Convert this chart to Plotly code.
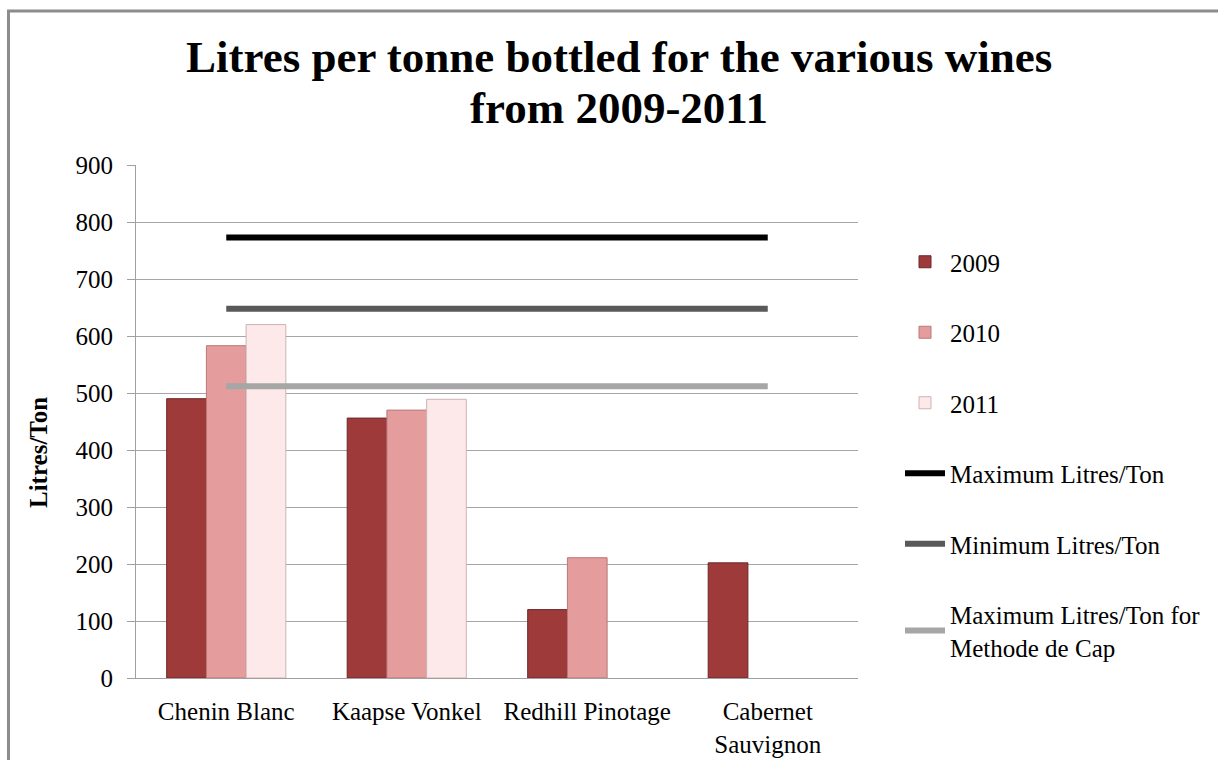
import plotly.graph_objects as go

categories = ["Chenin Blanc", "Kaapse Vonkel", "Redhill Pinotage", "Cabernet<br>Sauvignon"]
years = ["2009", "2010", "2011"]
values_2009 = [490, 456, 120, 202]
values_2010 = [583, 470, 211, None]
values_2011 = [620, 489, None, None]
max_litres = [773, 773, 773, 773]
min_litres = [648, 648, 648, 648]
max_mdc = [512, 512, 512, 512]

bar_colors = ["#9E3A3A", "#E49C9C", "#FDE9E9"]
bar_edges = ["#6E2626", "#B97878", "#CDB3B3"]

FONT = "Liberation Serif"
L, R, T, B = 136, 360, 165, 82
W, H = 1218, 760
pw = W - L - R
ph = H - T - B

def px_to_paper_x(x):
    return (x - L) / pw

def px_to_paper_y(y):
    return (H - B - y) / ph

fig = go.Figure()
for yr, vals, c, e in zip(years, [values_2009, values_2010, values_2011], bar_colors, bar_edges):
    fig.add_trace(go.Bar(x=categories, y=vals, name=yr, marker=dict(color=c, line=dict(color=e, width=1)),
                         legendgroup=yr))

for name, vals, c in [("Maximum Litres/Ton", max_litres, "#000000"),
                      ("Minimum Litres/Ton", min_litres, "#595959"),
                      ("Maximum Litres/Ton for<br>Methode de Cap", max_mdc, "#A6A6A6")]:
    fig.add_trace(go.Scatter(x=categories, y=vals, name=name, mode="lines",
                             line=dict(color=c, width=6), legendgroup=name))

fig.update_layout(
    width=W, height=H,
    margin=dict(l=L, r=R, t=T, b=B, autoexpand=False),
    paper_bgcolor="white", plot_bgcolor="white",
    font=dict(family=FONT, size=25, color="#000000"),
    barmode="group", bargap=0.34, bargroupgap=0,
    showlegend=True,
    legend=dict(x=px_to_paper_x(900), y=px_to_paper_y(239), xanchor="left", yanchor="top",
                font=dict(family=FONT, size=25), tracegroupgap=35, itemwidth=40,
                bgcolor="rgba(0,0,0,0)"),
    xaxis=dict(type="category", showgrid=False, showline=True, linecolor="#A0A0A0", linewidth=1,
               ticks="", tickfont=dict(family=FONT, size=25), ticklabelstandoff=11),
    yaxis=dict(range=[0, 900], dtick=100, showgrid=True, gridcolor="#A6A6A6", gridwidth=1,
               showline=True, linecolor="#A0A0A0", linewidth=1, ticks="outside", ticklen=8,
               tickcolor="#A0A0A0", tickfont=dict(family=FONT, size=25), ticklabelstandoff=9,
               zeroline=False),
    annotations=[
        dict(text="<b>Litres per tonne bottled for the various wines</b>", xref="paper", yref="paper",
             x=px_to_paper_x(619), y=px_to_paper_y(57), xanchor="center", yanchor="middle",
             showarrow=False, font=dict(family=FONT, size=45, color="#000000")),
        dict(text="<b>from 2009-2011</b>", xref="paper", yref="paper",
             x=px_to_paper_x(619), y=px_to_paper_y(108), xanchor="center", yanchor="middle",
             showarrow=False, font=dict(family=FONT, size=45, color="#000000")),
        dict(text="<b>Litres/Ton</b>", xref="paper", yref="paper", textangle=-90,
             x=px_to_paper_x(38), y=px_to_paper_y(453), xanchor="center", yanchor="middle",
             showarrow=False, font=dict(family=FONT, size=25, color="#000000")),
    ],
    shapes=[
        dict(type="line", xref="paper", yref="paper", x0=px_to_paper_x(8.5), x1=px_to_paper_x(8.5),
             y0=px_to_paper_y(10), y1=px_to_paper_y(800), line=dict(color="#8C8C8C", width=3)),
        dict(type="line", xref="paper", yref="paper", x0=px_to_paper_x(7), x1=px_to_paper_x(1300),
             y0=px_to_paper_y(11), y1=px_to_paper_y(11), line=dict(color="#8C8C8C", width=3)),
    ],
)

fig.write_html("out.html")
